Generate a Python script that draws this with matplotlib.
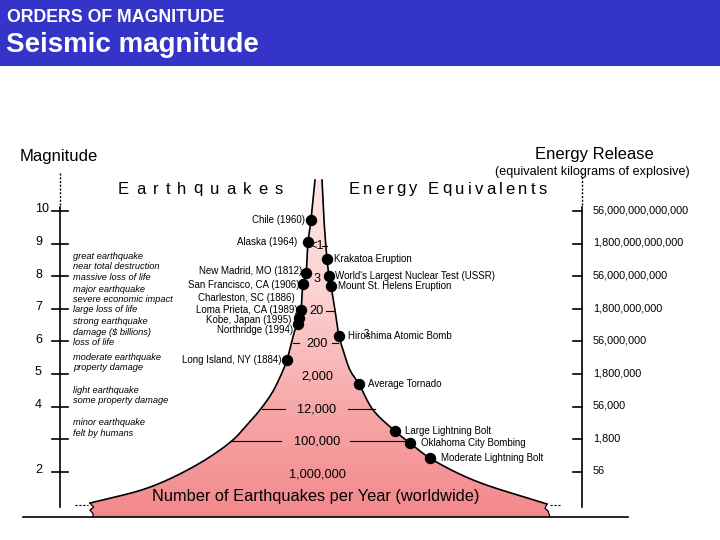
import numpy as np
import matplotlib
matplotlib.use("Agg")
import matplotlib.pyplot as plt
from matplotlib.transforms import Affine2D
from matplotlib.patches import Polygon, Rectangle
from matplotlib.colors import LinearSegmentedColormap
from matplotlib.font_manager import FontProperties
from matplotlib.textpath import TextToPath

# ---------------- data ----------------
magnitudes = [10, 9, 8, 7, 6, 5, 4, 3, 2]
magnitude_labels = ["10", "9", "8", "7", "6", "5", "4", "", "2"]
energy_labels = ["56,000,000,000,000", "1,800,000,000,000", "56,000,000,000",
                 "1,800,000,000", "56,000,000", "1,800,000", "56,000", "1,800", "56"]
quakes_per_year = ["<1", "3", "20", "200", "2,000", "12,000", "100,000", "1,000,000"]
quakes_mag = [9, 8, 7, 6, 5, 4, 3, 2]

descriptions = [
    (8.6, ["great earthquake", "near total destruction", "massive loss of life"]),
    (7.6, ["major earthquake", "severe economic impact", "large loss of life"]),
    (6.6, ["strong earthquake", "damage ($ billions)", "loss of life"]),
    (5.5, ["moderate earthquake", "property damage"]),
    (4.5, ["light earthquake", "some property damage"]),
    (3.5, ["minor earthquake", "felt by humans"]),
]

eq_names = ["Chile (1960)", "Alaska (1964)", "New Madrid, MO (1812)",
            "San Francisco, CA (1906)", "Charleston, SC (1886)",
            "Loma Prieta, CA (1989)", "Kobe, Japan (1995)", "Northridge (1994)",
            "Long Island, NY (1884)"]
eq_mag = [9.72, 9.05, 8.10, 7.76, 7.30, 6.96, 6.72, 6.53, 5.43]
eq_label_mag = [9.72, 9.05, 8.15, 7.72, 7.33, 6.96, 6.65, 6.34, 5.43]
eq_has_dot = [True, True, True, True, False, True, True, True, True]

en_names = ["Krakatoa Eruption", "World's Largest Nuclear Test (USSR)",
            "Mount St. Helens Eruption", "Hiroshima Atomic Bomb", "Average Tornado",
            "Large Lightning Bolt", "Oklahoma City Bombing", "Moderate Lightning Bolt"]
en_mag = [8.53, 8.01, 7.70, 6.17, 4.69, 3.25, 2.88, 2.42]

# funnel outline (magnitude vs horizontal position)
left_mag = [10.95, 9.72, 9.05, 8.10, 7.76, 6.96, 6.72, 6.53, 6.35, 5.89, 5.43,
            4.97, 4.42, 3.90, 3.44, 2.98, 2.27, 1.53, 1.04]
left_x = [315, 311, 308, 306, 303, 301, 299, 298, 295, 291, 287,
          281, 272, 260, 247, 233, 200, 150, 90]
right_mag = [10.95, 9.72, 8.53, 8.01, 7.70, 6.96, 6.17, 5.74, 5.12, 4.69, 3.90,
             3.25, 2.88, 2.42, 1.75, 1.01]
right_x = [322, 324, 327, 329, 331, 335, 339, 343, 350, 359, 373,
           395, 410, 430, 473, 547]

# ---------------- layout helpers ----------------
W, H, DPI = 720, 540, 100
PX_PER_MAG = 32.6
FONT = "Liberation Sans"
fig = plt.figure(figsize=(W / DPI, H / DPI), dpi=DPI)
ax = fig.add_axes([0, 0, 1, 1])
ax.set_axis_off()
ylo = 10 - (H - 211) / PX_PER_MAG
yhi = 10 + 211 / PX_PER_MAG
T = Affine2D().scale(1 / W, -1 / H).translate(0, 1) + fig.transFigure


def cr_chain(P, n=14, alpha=0.5):
    P = np.asarray(P, float)
    P = np.vstack([2 * P[0] - P[1], P, 2 * P[-1] - P[-2]])
    out = []
    for i in range(1, len(P) - 2):
        p0, p1, p2, p3 = P[i - 1:i + 3]
        t0 = 0.0
        t1 = t0 + np.linalg.norm(p1 - p0) ** alpha
        t2 = t1 + np.linalg.norm(p2 - p1) ** alpha
        t3 = t2 + np.linalg.norm(p3 - p2) ** alpha
        t = np.linspace(t1, t2, n, endpoint=False)[:, None]
        A1 = (t1 - t) / (t1 - t0) * p0 + (t - t0) / (t1 - t0) * p1
        A2 = (t2 - t) / (t2 - t1) * p1 + (t - t1) / (t2 - t1) * p2
        A3 = (t3 - t) / (t3 - t2) * p2 + (t - t2) / (t3 - t2) * p3
        B1 = (t2 - t) / (t2 - t0) * A1 + (t - t0) / (t2 - t0) * A2
        B2 = (t3 - t) / (t3 - t1) * A2 + (t - t1) / (t3 - t1) * A3
        out.append((t2 - t) / (t2 - t1) * B1 + (t - t1) / (t2 - t1) * B2)
    out.append(P[-2][None])
    return np.vstack(out)


def smooth(xs, ms):
    c = cr_chain(np.column_stack([xs, np.asarray(ms) * PX_PER_MAG]))
    return c[:, 0], c[:, 1] / PX_PER_MAG


lx, lm = smooth(left_x, left_mag)
rx, rm = smooth(right_x, right_mag)

base_m = 10 - (517 - 211) / PX_PER_MAG

# ---------------- header ----------------
fig.patches.append(Rectangle((0, 1 - 66 / H), 1, 66 / H, transform=fig.transFigure,
                             facecolor="#3434c8", edgecolor="none", zorder=0))
fig.text(7, 17, "ORDERS OF MAGNITUDE", transform=T, color="white", fontsize=12.8,
         fontweight="bold", family=FONT, va="center", ha="left")
fig.text(6, 45, "Seismic magnitude", transform=T, color="white", fontsize=20,
         fontweight="bold", family=FONT, va="center", ha="left")

# ---------------- funnel ----------------
jag_left = np.array([[90, 1.04], [93.5, 0.92], [90, 0.82], [93, 0.72], [93, base_m]])
jag_right = np.array([[550, base_m], [548, 0.80], [545, 0.88], [547, 1.01]])
poly_pts = np.vstack([np.column_stack([lx, lm]), jag_left[1:],
                      jag_right, np.column_stack([rx, rm])[::-1]])
poly = Polygon(poly_pts, closed=True, facecolor="none", edgecolor="none")
ax.add_patch(poly)
cmap = LinearSegmentedColormap.from_list("pk", ["#f3888b", "#f7a9aa", "#fbd3d3", "#fde6e6"])
grad = np.linspace(0, 1, 256)[:, None]
im = ax.imshow(grad, extent=[80, 560, base_m, 11.0], origin="lower", aspect="auto",
               cmap=cmap, zorder=1, interpolation="bilinear")
im.set_clip_path(poly)

ax.plot(lx, lm, color="black", lw=1.2, zorder=3)
ax.plot(rx, rm, color="black", lw=1.2, zorder=3)
ax.plot(jag_left[:, 0], jag_left[:, 1], color="black", lw=0.9, zorder=3)
ax.plot(jag_right[:, 0], jag_right[:, 1], color="black", lw=0.9, zorder=3)
ax.plot([23, 628], [base_m, base_m], color="black", lw=1.2, zorder=3)
ax.plot([75, 88], [0.98, 0.98], color="black", lw=0.8, ls=(0, (2, 1.5)), zorder=3)
ax.plot([550, 560], [0.98, 0.98], color="black", lw=0.8, ls=(0, (2, 1.5)), zorder=3)

# ---------------- axes lines ----------------
top_m = 10 - (173 - 211) / PX_PER_MAG
dash_end = 10 - (207 - 211) / PX_PER_MAG
bot_m = 10 - (507 - 211) / PX_PER_MAG
for xa in (60, 582):
    ax.plot([xa, xa], [top_m, dash_end], color="black", lw=1.0, ls=(0, (1.5, 1.2)))
    ax.plot([xa, xa], [dash_end, bot_m], color="black", lw=1.2)
for m, lab, elab in zip(magnitudes, magnitude_labels, energy_labels):
    ax.plot([52, 68], [m, m], color="black", lw=1.2)
    ax.text(35, m + 0.05, lab, fontsize=9, family=FONT, ha="left", va="center")
    ax.plot([573, 582], [m, m], color="black", lw=1.2)
    ax.text(593, m + 0.02, elab, fontsize=7.8, family=FONT, ha="left", va="center")

# ---------------- counts inside funnel ----------------
cx = 317
for m, lab in zip(quakes_mag, quakes_per_year):
    ax.text(cx, m - 0.08, lab, fontsize=9.2, family=FONT, ha="center", va="center", zorder=4)
count_ticks = {9: [(322, 327)], 7: [(326, 333)], 6: [(293, 299), (332, 338)],
               4: [(262, 285), (348, 375)], 3: [(232, 281), (350, 410)]}
for m, segs in count_ticks.items():
    for a, b in segs:
        ax.plot([a, b], [m - 0.06, m - 0.06], color="black", lw=0.8, zorder=4)

# ---------------- events ----------------
lx_i = np.interp(eq_mag, lm[::-1], lx[::-1])
rx_i = np.interp(en_mag, rm[::-1], rx[::-1])
eq_gap = [6, 11, 4, 3, 7, 3, 8, 5, 6]
for name, m, lm_, dot, x, g in zip(eq_names, eq_mag, eq_label_mag, eq_has_dot, lx_i, eq_gap):
    if dot:
        ax.plot(x, m, "o", color="black", ms=7.2, zorder=5)
    ax.text(x - g, lm_, name, fontsize=7, family=FONT, ha="right", va="center", zorder=5)
en_gap = [7, 6, 7, 9, 9, 10, 11, 11]
for name, m, x, g in zip(en_names, en_mag, rx_i, en_gap):
    ax.plot(x, m, "o", color="black", ms=7.2, zorder=5)
    ax.text(x + g, m, name, fontsize=7, family=FONT, ha="left", va="center", zorder=5)
ax.text(366, 6.22, "3", fontsize=7, family=FONT, ha="center", va="center", zorder=5)

# ---------------- descriptions ----------------
for m0, lines in descriptions:
    for i, s in enumerate(lines):
        ax.text(73, m0 - i * 0.315, s, fontsize=6.7, family=FONT, style="italic",
                ha="left", va="center")

# ---------------- titles ----------------
fig.text(20, 156, "Magnitude", transform=T, fontsize=12, family=FONT, va="center")
fig.text(535, 155, "Energy Release", transform=T, fontsize=12, family=FONT, va="center")
fig.text(495, 172, "(equivalent kilograms of explosive)", transform=T, fontsize=9.1,
         family=FONT, va="center")
fig.text(316, 497, "Number of Earthquakes per Year (worldwide)", transform=T,
         fontsize=11.8, family=FONT, va="center", ha="center", zorder=6)

ttp = TextToPath()


def tracked(word, x0, x1, y, size):
    fp = FontProperties(family=FONT, size=size)
    ws = [ttp.get_text_width_height_descent(c, fp, ismath=False)[0] * DPI / 72 for c in word]
    track = (x1 - x0 - sum(ws)) / (len(word) - 1)
    x = x0
    for c, w in zip(word, ws):
        fig.text(x, y, c, transform=T, fontsize=size, family=FONT, va="center", ha="left")
        x += w + track


tracked("Earthquakes", 118, 283, 189, 12)
tracked("Energy", 349, 417, 189, 12)
tracked("Equivalents", 428, 547, 189, 12)

ax.set_xlim(0, W)
ax.set_ylim(ylo, yhi)
fig.savefig("out.png", dpi=DPI)
